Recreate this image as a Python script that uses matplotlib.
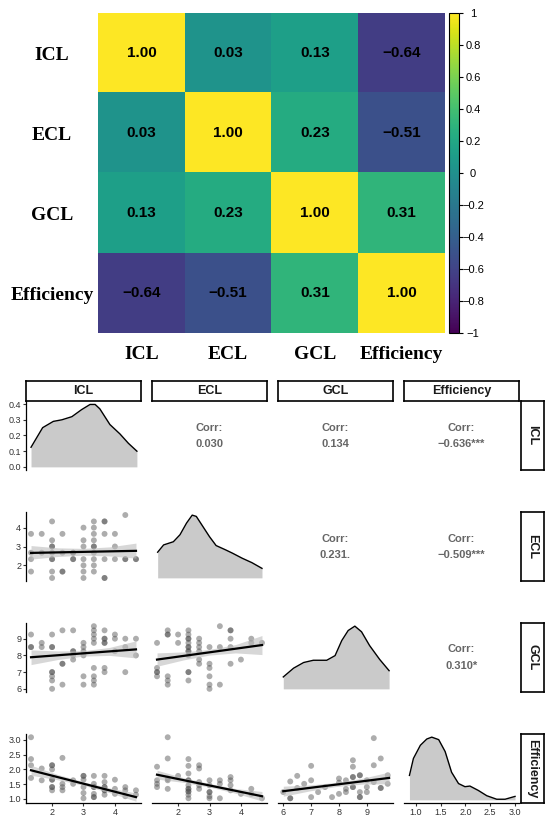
import numpy as np
import matplotlib.pyplot as plt

plt.rcParams['font.family'] = ['Liberation Sans', 'DejaVu Sans']

W, H = 550, 822

# ---- datos ----
var_names = ['ICL', 'ECL', 'GCL', 'Efficiency']

corr = [[1.00, 0.03, 0.13, -0.64],
        [0.03, 1.00, 0.23, -0.51],
        [0.13, 0.23, 1.00, 0.31],
        [-0.64, -0.51, 0.31, 1.00]]

cb_ticks = [1, 0.8, 0.6, 0.4, 0.2, 0, -0.2, -0.4, -0.6, -0.8, -1]
cb_labels = ['1', '0.8', '0.6', '0.4', '0.2', '0',
             '\u22120.2', '\u22120.4', '\u22120.6', '\u22120.8', '\u22121']

# textos de correlacion (panel superior)
corr_text = {(0, 1): '0.030', (0, 2): '0.134', (0, 3): '\u22120.636***',
             (1, 2): '0.231.', (1, 3): '\u22120.509***', (2, 3): '0.310*'}

# densidades (diagonal)
icl_dens_x = [1.33, 1.70, 2.04, 2.31, 2.63, 2.94, 3.21, 3.37, 3.52, 3.84, 4.16, 4.43, 4.70]
icl_dens_y = [0.125, 0.25, 0.29, 0.30, 0.32, 0.365, 0.398, 0.398, 0.37, 0.27, 0.21, 0.15, 0.10]

ecl_dens_x = [1.35, 1.54, 1.85, 2.06, 2.27, 2.45, 2.58, 2.79, 3.0, 3.21, 3.52, 3.73, 4.04, 4.35, 4.67]
ecl_dens_y = [0.405, 0.52, 0.57, 0.68, 0.865, 0.99, 0.97, 0.81, 0.65, 0.51, 0.44, 0.39, 0.31, 0.24, 0.15]

gcl_dens_x = [6.0, 6.37, 6.73, 7.08, 7.56, 7.86, 8.10, 8.33, 8.57, 8.81, 9.10, 9.46, 9.80]
gcl_dens_y = [0.19, 0.33, 0.42, 0.456, 0.456, 0.53, 0.77, 0.93, 1.0, 0.91, 0.69, 0.47, 0.29]

eff_dens_x = [0.87, 0.95, 1.09, 1.22, 1.32, 1.46, 1.59, 1.72, 1.86, 1.99, 2.09, 2.26, 2.43, 2.63, 2.80, 3.0]
eff_dens_y = [0.39, 0.66, 0.87, 0.97, 1.0, 0.96, 0.77, 0.44, 0.26, 0.21, 0.22, 0.15, 0.066, 0.01, 0.01, 0.055]

# dispersion (panel inferior)
pts_icl_ecl = [(1.33, 3.67), (1.33, 2.67), (1.33, 2.33), (1.33, 1.67),
               (1.67, 3.67), (1.67, 2.67),
               (2.0, 4.33), (2.0, 3.33), (2.0, 3.0), (2.0, 3.0), (2.0, 2.67), (2.0, 2.33), (2.0, 2.33),
               (2.0, 1.67), (2.0, 1.33),
               (2.33, 3.67), (2.33, 2.67), (2.33, 1.67), (2.33, 1.67),
               (2.67, 2.67), (2.67, 2.67), (2.67, 2.33), (2.67, 2.33),
               (3.0, 4.0), (3.0, 3.33), (3.0, 3.0), (3.0, 2.33), (3.0, 2.0), (3.0, 1.67), (3.0, 1.33),
               (3.33, 4.33), (3.33, 4.0), (3.33, 3.67), (3.33, 3.33), (3.33, 3.0), (3.33, 3.0),
               (3.33, 2.67), (3.33, 2.33), (3.33, 2.0), (3.33, 1.67),
               (3.67, 4.33), (3.67, 4.33), (3.67, 3.67), (3.67, 2.33), (3.67, 1.33), (3.67, 1.33),
               (4.0, 3.67), (4.0, 3.0), (4.0, 2.33),
               (4.33, 4.67), (4.33, 2.33), (4.33, 2.33),
               (4.67, 2.33), (4.67, 2.33)]

pts_icl_gcl = [(1.33, 9.25), (1.33, 8.5), (1.33, 8.5),
               (1.67, 8.75), (1.67, 8.5),
               (2.0, 9.25), (2.0, 8.5), (2.0, 8.5), (2.0, 7.0), (2.0, 7.0), (2.0, 6.75), (2.0, 6.5), (2.0, 6.0),
               (2.33, 9.5), (2.33, 7.5), (2.33, 7.5), (2.33, 6.25),
               (2.67, 9.5), (2.67, 8.25), (2.67, 8.25), (2.67, 8.0), (2.67, 7.75),
               (3.0, 8.75), (3.0, 8.5), (3.0, 8.25), (3.0, 8.0), (3.0, 6.75), (3.0, 6.25),
               (3.33, 9.75), (3.33, 9.5), (3.33, 9.25), (3.33, 9.0), (3.33, 8.75), (3.33, 7.25),
               (3.33, 6.75), (3.33, 6.5), (3.33, 6.25),
               (3.67, 9.5), (3.67, 9.0), (3.67, 9.0), (3.67, 8.75), (3.67, 8.75), (3.67, 7.25), (3.67, 7.0),
               (4.0, 9.25), (4.0, 9.0), (4.0, 8.25),
               (4.33, 9.0), (4.33, 8.5), (4.33, 7.0),
               (4.67, 9.0), (4.67, 8.0)]

pts_ecl_gcl = [(1.33, 8.75), (1.33, 7.25), (1.33, 7.0), (1.33, 7.0), (1.33, 6.75),
               (1.67, 9.5), (1.67, 9.25), (1.67, 9.25), (1.67, 6.75), (1.67, 6.5), (1.67, 6.25),
               (2.0, 9.25), (2.0, 8.75),
               (2.33, 9.5), (2.33, 9.25), (2.33, 9.0), (2.33, 9.0), (2.33, 8.75), (2.33, 8.5), (2.33, 8.5),
               (2.33, 8.25), (2.33, 8.25), (2.33, 8.0), (2.33, 7.0), (2.33, 7.0), (2.33, 6.5),
               (2.67, 9.0), (2.67, 8.75), (2.67, 8.5), (2.67, 8.25), (2.67, 7.75), (2.67, 7.5),
               (3.0, 8.5), (3.0, 7.5), (3.0, 7.25), (3.0, 6.75), (3.0, 6.25), (3.0, 6.0),
               (3.33, 9.75), (3.33, 8.5), (3.33, 6.25),
               (3.67, 9.5), (3.67, 9.5), (3.67, 9.0), (3.67, 8.5), (3.67, 7.5),
               (4.0, 7.75),
               (4.33, 9.0), (4.33, 8.75),
               (4.67, 8.75)]

pts_icl_eff = [(1.33, 3.09), (1.33, 2.35), (1.33, 2.14), (1.33, 1.71),
               (1.67, 2.03), (1.67, 1.63),
               (2.0, 2.14), (2.0, 2.14), (2.0, 2.0), (2.0, 1.65), (2.0, 1.65), (2.0, 1.4), (2.0, 1.4), (2.0, 1.29),
               (2.33, 2.39), (2.33, 1.51), (2.33, 1.4), (2.33, 1.29),
               (2.67, 1.63), (2.67, 1.51),
               (3.0, 1.78), (3.0, 1.78), (3.0, 1.65), (3.0, 1.4), (3.0, 1.2), (3.0, 1.02),
               (3.33, 1.78), (3.33, 1.51), (3.33, 1.4), (3.33, 1.4), (3.33, 1.17), (3.33, 1.06), (3.33, 1.06),
               (3.67, 1.78), (3.67, 1.57), (3.67, 1.4), (3.67, 1.4), (3.67, 1.29), (3.67, 1.29), (3.67, 1.14),
               (4.0, 1.65), (4.0, 1.34), (4.0, 1.17),
               (4.33, 1.4), (4.33, 1.29), (4.33, 1.09),
               (4.67, 1.29), (4.67, 1.14)]

pts_ecl_eff = [(1.33, 2.09), (1.33, 1.63), (1.33, 1.51), (1.33, 1.4),
               (1.67, 3.09), (1.67, 2.37), (1.67, 1.69), (1.67, 1.63), (1.67, 1.34),
               (2.0, 1.78),
               (2.33, 2.35), (2.33, 2.12), (2.33, 1.86), (2.33, 1.63), (2.33, 1.63), (2.33, 1.46),
               (2.33, 1.34), (2.33, 1.34), (2.33, 1.25), (2.33, 1.25), (2.33, 1.14), (2.33, 1.02),
               (2.67, 2.14), (2.67, 2.03), (2.67, 1.57), (2.67, 1.46), (2.67, 1.34),
               (3.0, 1.63), (3.0, 1.46), (3.0, 1.23), (3.0, 1.23), (3.0, 1.09), (3.0, 1.02),
               (3.33, 1.63), (3.33, 1.51), (3.33, 1.02),
               (3.67, 1.74), (3.67, 1.63), (3.67, 1.46), (3.67, 1.29),
               (4.0, 1.17),
               (4.33, 1.34), (4.33, 1.17),
               (4.67, 1.02)]

pts_gcl_eff = [(6.0, 1.23), (6.25, 1.59), (6.25, 1.02), (6.25, 1.02), (6.5, 1.78), (6.5, 1.37), (6.75, 1.51),
               (7.0, 2.12), (7.0, 1.63), (7.0, 1.06), (7.25, 1.23), (7.5, 1.4), (7.75, 1.06),
               (8.0, 1.69), (8.0, 1.55), (8.0, 1.17), (8.25, 1.63), (8.25, 1.34), (8.25, 1.23),
               (8.5, 2.31), (8.5, 2.09), (8.5, 1.74), (8.5, 1.74), (8.5, 1.4), (8.5, 1.4),
               (8.75, 1.8), (8.75, 1.8), (8.75, 1.23), (8.75, 1.06), (8.75, 1.06),
               (9.0, 1.63), (9.0, 1.4), (9.0, 1.23),
               (9.25, 3.06), (9.25, 2.14), (9.25, 1.57),
               (9.5, 2.37), (9.5, 1.37), (9.5, 1.37),
               (9.75, 1.8), (9.75, 1.51)]

# rectas lm y banda de confianza
x_icl = [1.33, 2.17, 3.0, 3.83, 4.67]
x_gcl = [6.0, 6.95, 7.9, 8.85, 9.8]

fit_icl_ecl = [2.66, 2.69, 2.71, 2.74, 2.77]
lo_icl_ecl = [2.33, 2.47, 2.54, 2.50, 2.38]
hi_icl_ecl = [3.05, 2.93, 2.90, 2.98, 3.18]

fit_icl_gcl = [7.89, 8.01, 8.12, 8.24, 8.36]
lo_icl_gcl = [7.45, 7.75, 7.96, 8.0, 7.85]
hi_icl_gcl = [8.33, 8.27, 8.28, 8.48, 8.87]

fit_ecl_gcl = [7.75, 7.97, 8.19, 8.40, 8.62]
lo_ecl_gcl = [7.35, 7.73, 8.02, 8.15, 8.05]
hi_ecl_gcl = [8.15, 8.21, 8.36, 8.65, 9.19]

fit_icl_eff = [1.97, 1.74, 1.52, 1.29, 1.06]
lo_icl_eff = [1.80, 1.65, 1.46, 1.21, 0.92]
hi_icl_eff = [2.14, 1.83, 1.58, 1.37, 1.20]

fit_ecl_eff = [1.82, 1.64, 1.46, 1.27, 1.09]
lo_ecl_eff = [1.67, 1.56, 1.40, 1.19, 0.93]
hi_ecl_eff = [1.97, 1.72, 1.52, 1.35, 1.25]

fit_gcl_eff = [1.26, 1.37, 1.49, 1.60, 1.71]
lo_gcl_eff = [1.09, 1.27, 1.42, 1.50, 1.51]
hi_gcl_eff = [1.43, 1.47, 1.56, 1.70, 1.91]

x_ticks = [[2, 3, 4], [2, 3, 4], [6, 7, 8, 9], [1.0, 1.5, 2.0, 2.5, 3.0]]
x_ticklabels = [['2', '3', '4'], ['2', '3', '4'], ['6', '7', '8', '9'],
                ['1.0', '1.5', '2.0', '2.5', '3.0']]
y_ticks = [[0.0, 0.1, 0.2, 0.3, 0.4], [2, 3, 4], [6, 7, 8, 9], [1.0, 1.5, 2.0, 2.5, 3.0]]
y_ticklabels = [['0.0', '0.1', '0.2', '0.3', '0.4'], ['2', '3', '4'], ['6', '7', '8', '9'],
                ['1.0', '1.5', '2.0', '2.5', '3.0']]


def box(l, t, w, h):
    return [l / W, 1 - (t + h) / H, w / W, h / H]


fig = plt.figure(figsize=(W / 100, H / 100), dpi=100)

# ---- mapa de calor ----
ax = fig.add_axes(box(98, 13, 347, 320))
im = ax.imshow(np.array(corr), cmap='viridis', vmin=-1, vmax=1, aspect='auto')
for i in range(4):
    for j in range(4):
        txt = f'{corr[i][j]:.2f}'.replace('-', '\u2212')
        ax.text(j, i, txt, ha='center', va='center', fontsize=11, fontweight='bold', color='black')
ax.set_xticks(range(4), var_names)
ax.set_yticks(range(4), var_names)
ax.tick_params(length=0)
ax.tick_params(axis='y', pad=33)
ax.tick_params(axis='x', pad=9.5)
for t in ax.get_yticklabels() + ax.get_xticklabels():
    t.set_fontfamily('Liberation Serif')
    t.set_fontweight('bold')
    t.set_fontsize(14)
for t in ax.get_yticklabels():
    t.set_ha('center')
for s in ax.spines.values():
    s.set_visible(False)

cax = fig.add_axes(box(449, 13, 10, 320))
cb = fig.colorbar(im, cax=cax, ticks=cb_ticks)
cb.ax.set_yticklabels(cb_labels)
cb.ax.tick_params(length=3, width=0.8, pad=7, labelsize=8)
for t in cb.ax.get_yticklabels():
    t.set_ha('center')
cb.outline.set_linewidth(0.8)

# ---- matriz de pares ----
col_left = [26, 152, 278, 404]
row_top = [401, 512, 623, 734]
pw, ph = 115, 69
x_lims = [(1.17, 4.83), (1.17, 4.83), (5.81, 9.94), (0.76, 3.08)]
y_lims = [(-0.02, 0.42), (1.17, 4.83), (5.81, 9.94), (0.86, 3.2)]

dens = {0: (icl_dens_x, icl_dens_y), 1: (ecl_dens_x, ecl_dens_y),
        2: (gcl_dens_x, gcl_dens_y), 3: (eff_dens_x, eff_dens_y)}

scat = {(1, 0): (pts_icl_ecl, x_icl, fit_icl_ecl, lo_icl_ecl, hi_icl_ecl),
        (2, 0): (pts_icl_gcl, x_icl, fit_icl_gcl, lo_icl_gcl, hi_icl_gcl),
        (2, 1): (pts_ecl_gcl, x_icl, fit_ecl_gcl, lo_ecl_gcl, hi_ecl_gcl),
        (3, 0): (pts_icl_eff, x_icl, fit_icl_eff, lo_icl_eff, hi_icl_eff),
        (3, 1): (pts_ecl_eff, x_icl, fit_ecl_eff, lo_ecl_eff, hi_ecl_eff),
        (3, 2): (pts_gcl_eff, x_gcl, fit_gcl_eff, lo_gcl_eff, hi_gcl_eff)}

for i in range(4):
    for j in range(4):
        a = fig.add_axes(box(col_left[j], row_top[i], pw, ph))
        a.set_xlim(x_lims[j])
        if i == j:
            dx, dy = dens[i]
            a.fill_between(dx, 0, dy, color='#cacaca', lw=0)
            a.plot(dx, dy, color='black', lw=1.0)
            if i == 0:
                a.set_ylim(y_lims[0])
            else:
                a.set_ylim(-0.05 * max(dy), 1.05 * max(dy))
        elif i > j:
            pts, bx, fy, lo, hi = scat[(i, j)]
            a.scatter([p[0] for p in pts], [p[1] for p in pts], s=18, color='#4a4a4a',
                      alpha=0.45, edgecolors='none')
            a.fill_between(bx, lo, hi, color='#bdbdbd', alpha=0.6, lw=0)
            a.plot([bx[0], bx[-1]], [fy[0], fy[-1]], color='black', lw=1.6)
            a.set_ylim(y_lims[i])
        else:
            a.set_ylim(0, 1)
            a.text(0.5, 0.5 + 8 / ph, 'Corr:', transform=a.transAxes, ha='center', va='center',
                   fontsize=8, fontweight='bold', color='#666666')
            a.text(0.5, 0.5 - 8 / ph, corr_text[(i, j)], transform=a.transAxes, ha='center',
                   va='center', fontsize=8, fontweight='bold', color='#666666')

        for s in a.spines.values():
            s.set_visible(False)
        a.tick_params(length=2, width=0.8, color='#333333', labelsize=6.5,
                      labelcolor='#333333', pad=1.5)
        if j == 0:
            a.spines['left'].set_visible(True)
            a.spines['left'].set_linewidth(0.9)
            a.set_yticks(y_ticks[i], y_ticklabels[i])
        else:
            a.set_yticks([])
        if i == 3:
            a.spines['bottom'].set_visible(True)
            a.spines['bottom'].set_linewidth(0.9)
            a.set_xticks(x_ticks[j], x_ticklabels[j])
        else:
            a.set_xticks([])
        a.patch.set_alpha(0)

# franjas superiores y laterales
for j in range(4):
    s = fig.add_axes(box(col_left[j], 381, pw, 20))
    s.set_xticks([])
    s.set_yticks([])
    for sp in s.spines.values():
        sp.set_linewidth(1.2)
    s.text(0.5, 0.5, var_names[j], transform=s.transAxes, ha='center', va='center',
           fontsize=9, fontweight='bold', color='#1a1a1a')

for i in range(4):
    s = fig.add_axes(box(521, row_top[i], 23, ph))
    s.set_xticks([])
    s.set_yticks([])
    for sp in s.spines.values():
        sp.set_linewidth(1.2)
    s.text(0.5, 0.5, var_names[i], transform=s.transAxes, ha='center', va='center',
           rotation=-90, fontsize=9, fontweight='bold', color='#1a1a1a')

fig.savefig('out.png', dpi=100)
